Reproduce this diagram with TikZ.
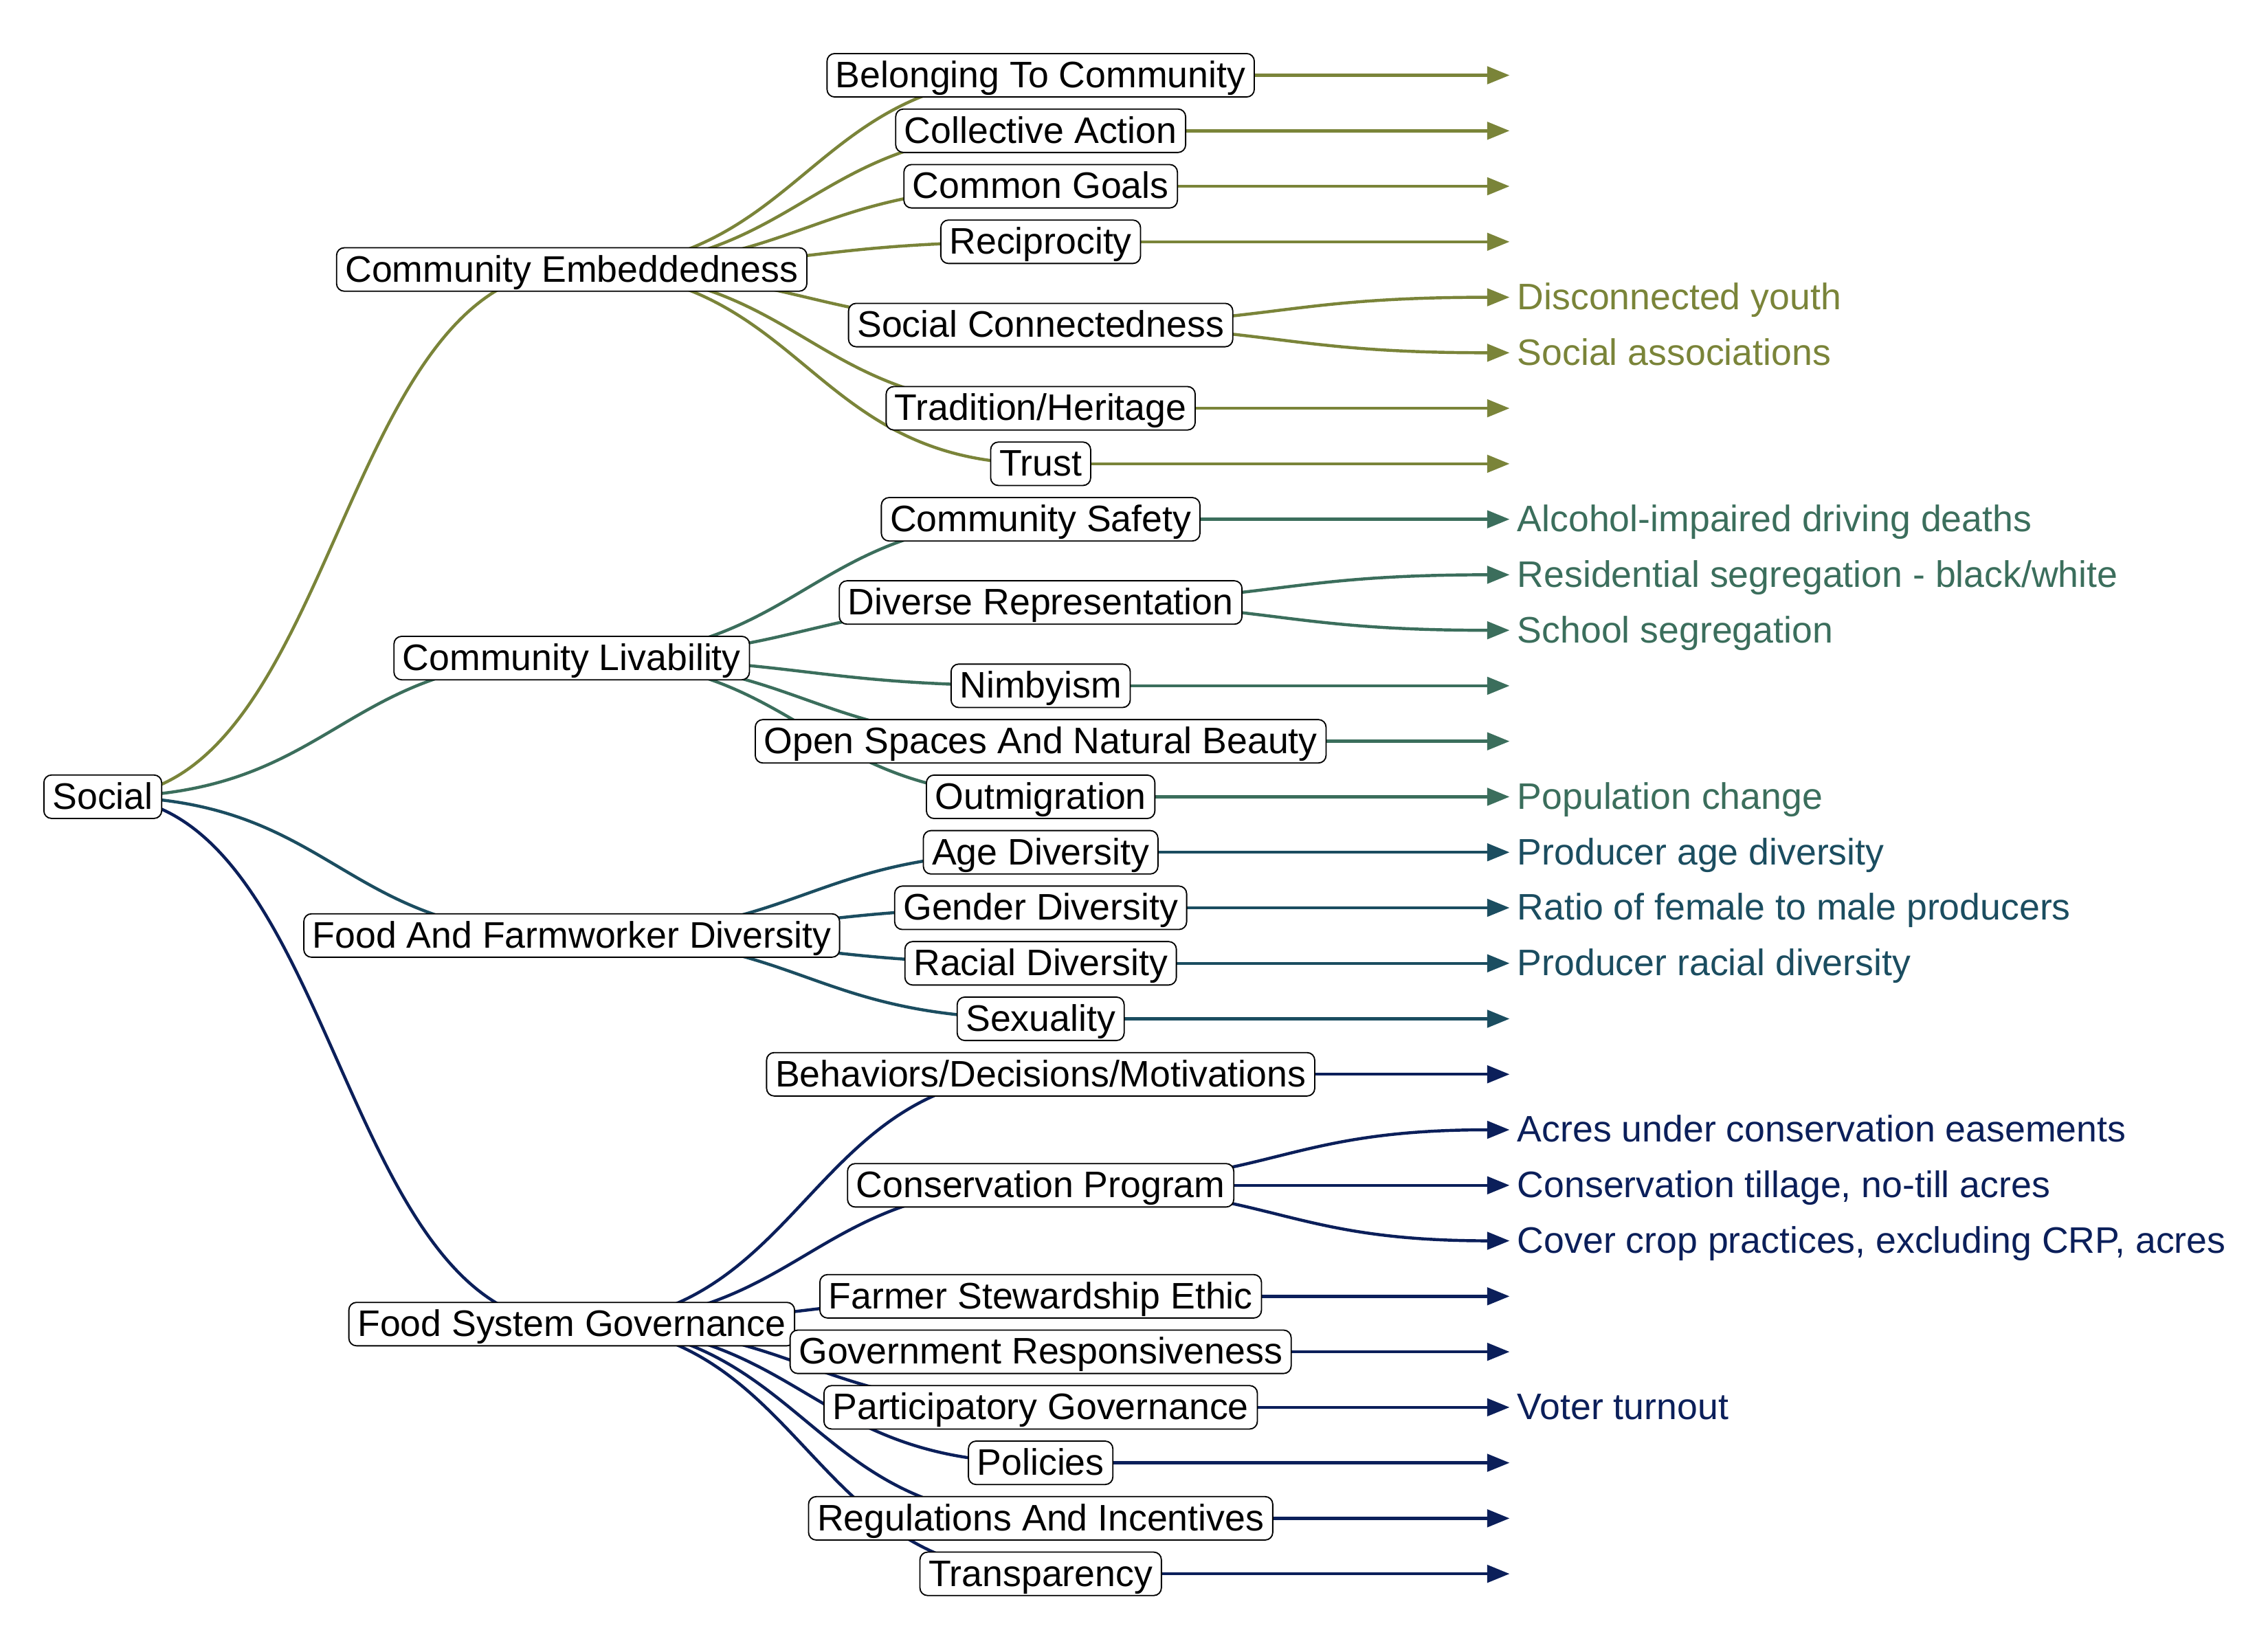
\documentclass[tikz,border=0pt]{standalone}
\usepackage{fontspec}
\setmainfont{Liberation Sans}
\usetikzlibrary{arrows.meta, backgrounds}

\definecolor{embed}{RGB}{122,132,57}
\definecolor{livab}{RGB}{59,110,92}
\definecolor{divers}{RGB}{27,77,96}
\definecolor{govern}{RGB}{11,31,90}

\begin{document}
\begin{tikzpicture}[x=0.02cm, y=-0.02cm,
    every node/.append style={font=\fontsize{14.5}{17}\selectfont},
    box/.style={draw=black, line width=0.5pt, fill=white, rounded corners=3pt,
      inner xsep=0.12cm, inner ysep=0.07cm, text height=0.40cm, text depth=0.06cm},
    ind/.style={anchor=west, inner xsep=0.1cm, text height=0.40cm, text depth=0.06cm},
    link/.style={line width=1.2pt,
      to path={.. controls +(162,0) and +(-162,0) .. (\tikztotarget)}},
    leadto/.style={-{Triangle[length=0.31cm, width=0.24cm]}}]
	\useasboundingbox (0,0) rectangle (1567,1140);

	% root and branches
	\node[box] (soc) at (71,550.5) {Social};
	\node[box] (emb) at (395,186.2) {Community Embeddedness};
	\node[box] (liv) at (395,454.7) {Community Livability};
	\node[box] (div) at (395,646.4) {Food And Farmworker Diversity};
	\node[box] (gov) at (395,914.9) {Food System Governance};

	% community embeddedness
	\node[box] (belong) at (719,52) {Belonging To Community};
	\node[box] (collect) at (719,90.35) {Collective Action};
	\node[box] (goals) at (719,128.7) {Common Goals};
	\node[box] (recip) at (719,167.05) {Reciprocity};
	\node[box] (connect) at (719,224.6) {Social Connectedness};
	\node[box] (herit) at (719,282.1) {Tradition/Heritage};
	\node[box] (trust) at (719,320.45) {Trust};

	% community livability
	\node[box] (safety) at (719,358.8) {Community Safety};
	\node[box] (repres) at (719,416.3) {Diverse Representation};
	\node[box] (nimby) at (719,473.85) {Nimbyism};
	\node[box] (openspc) at (719,512.2) {Open Spaces And Natural Beauty};
	\node[box] (outmig) at (719,550.55) {Outmigration};

	% food and farmworker diversity
	\node[box] (agediv) at (719,588.9) {Age Diversity};
	\node[box] (gendiv) at (719,627.25) {Gender Diversity};
	\node[box] (racediv) at (719,665.6) {Racial Diversity};
	\node[box] (sexual) at (719,703.95) {Sexuality};

	% food system governance
	\node[box] (behav) at (719,742.3) {Behaviors/Decisions/Motivations};
	\node[box] (conserv) at (719,819) {Conservation Program};
	\node[box] (steward) at (719,895.7) {Farmer Stewardship Ethic};
	\node[box] (govresp) at (719,934.05) {Government Responsiveness};
	\node[box] (partic) at (719,972.4) {Participatory Governance};
	\node[box] (policy) at (719,1010.75) {Policies};
	\node[box] (regul) at (719,1049.1) {Regulations And Incentives};
	\node[box] (transp) at (719,1087.45) {Transparency};

	% indicators
	\node[ind, text=embed] (youth) at (1043,205.4) {Disconnected youth};
	\node[ind, text=embed] (assoc) at (1043,243.75) {Social associations};
	\node[ind, text=livab] (alcohol) at (1043,358.8) {Alcohol-impaired driving deaths};
	\node[ind, text=livab] (resseg) at (1043,397.15) {Residential segregation - black/white};
	\node[ind, text=livab] (schseg) at (1043,435.5) {School segregation};
	\node[ind, text=livab] (popchg) at (1043,550.55) {Population change};
	\node[ind, text=divers] (prodage) at (1043,588.9) {Producer age diversity};
	\node[ind, text=divers] (femratio) at (1043,627.25) {Ratio of female to male producers};
	\node[ind, text=divers] (prodrace) at (1043,665.6) {Producer racial diversity};
	\node[ind, text=govern] (easem) at (1043,780.65) {Acres under conservation easements};
	\node[ind, text=govern] (tillage) at (1043,819) {Conservation tillage, no-till acres};
	\node[ind, text=govern] (cover) at (1043,857.35) {Cover crop practices, excluding CRP, acres};
	\node[ind, text=govern] (voter) at (1043,972.4) {Voter turnout};

	% open ends
	\coordinate (belong-end) at (1043,52);
	\coordinate (collect-end) at (1043,90.35);
	\coordinate (goals-end) at (1043,128.7);
	\coordinate (recip-end) at (1043,167.05);
	\coordinate (herit-end) at (1043,282.1);
	\coordinate (trust-end) at (1043,320.45);
	\coordinate (nimby-end) at (1043,473.85);
	\coordinate (openspc-end) at (1043,512.2);
	\coordinate (sexual-end) at (1043,703.95);
	\coordinate (behav-end) at (1043,742.3);
	\coordinate (steward-end) at (1043,895.7);
	\coordinate (govresp-end) at (1043,934.05);
	\coordinate (policy-end) at (1043,1010.75);
	\coordinate (regul-end) at (1043,1049.1);
	\coordinate (transp-end) at (1043,1087.45);

	\begin{scope}[on background layer]
		\path[link, embed] (soc.center) edge (emb.center);
		\path[link, livab] (soc.center) edge (liv.center);
		\path[link, divers] (soc.center) edge (div.center);
		\path[link, govern] (soc.center) edge (gov.center);

		\path[link, embed] (emb.center) edge (belong.center) edge (collect.center)
			edge (goals.center) edge (recip.center) edge (connect.center)
			edge (herit.center) edge (trust.center);
		\path[link, livab] (liv.center) edge (safety.center) edge (repres.center)
			edge (nimby.center) edge (openspc.center) edge (outmig.center);
		\path[link, divers] (div.center) edge (agediv.center) edge (gendiv.center)
			edge (racediv.center) edge (sexual.center);
		\path[link, govern] (gov.center) edge (behav.center) edge (conserv.center)
			edge (steward.center) edge (govresp.center) edge (partic.center)
			edge (policy.center) edge (regul.center) edge (transp.center);

		\path[link, leadto, embed] (belong.center) edge (belong-end)
			(collect.center) edge (collect-end) (goals.center) edge (goals-end)
			(recip.center) edge (recip-end) (connect.center) edge (youth.west)
			(connect.center) edge (assoc.west) (herit.center) edge (herit-end)
			(trust.center) edge (trust-end);
		\path[link, leadto, livab] (safety.center) edge (alcohol.west)
			(repres.center) edge (resseg.west) (repres.center) edge (schseg.west)
			(nimby.center) edge (nimby-end) (openspc.center) edge (openspc-end)
			(outmig.center) edge (popchg.west);
		\path[link, leadto, divers] (agediv.center) edge (prodage.west)
			(gendiv.center) edge (femratio.west) (racediv.center) edge (prodrace.west)
			(sexual.center) edge (sexual-end);
		\path[link, leadto, govern] (behav.center) edge (behav-end)
			(conserv.center) edge (easem.west) (conserv.center) edge (tillage.west)
			(conserv.center) edge (cover.west) (steward.center) edge (steward-end)
			(govresp.center) edge (govresp-end) (partic.center) edge (voter.west)
			(policy.center) edge (policy-end) (regul.center) edge (regul-end)
			(transp.center) edge (transp-end);
	\end{scope}
\end{tikzpicture}
\end{document}
